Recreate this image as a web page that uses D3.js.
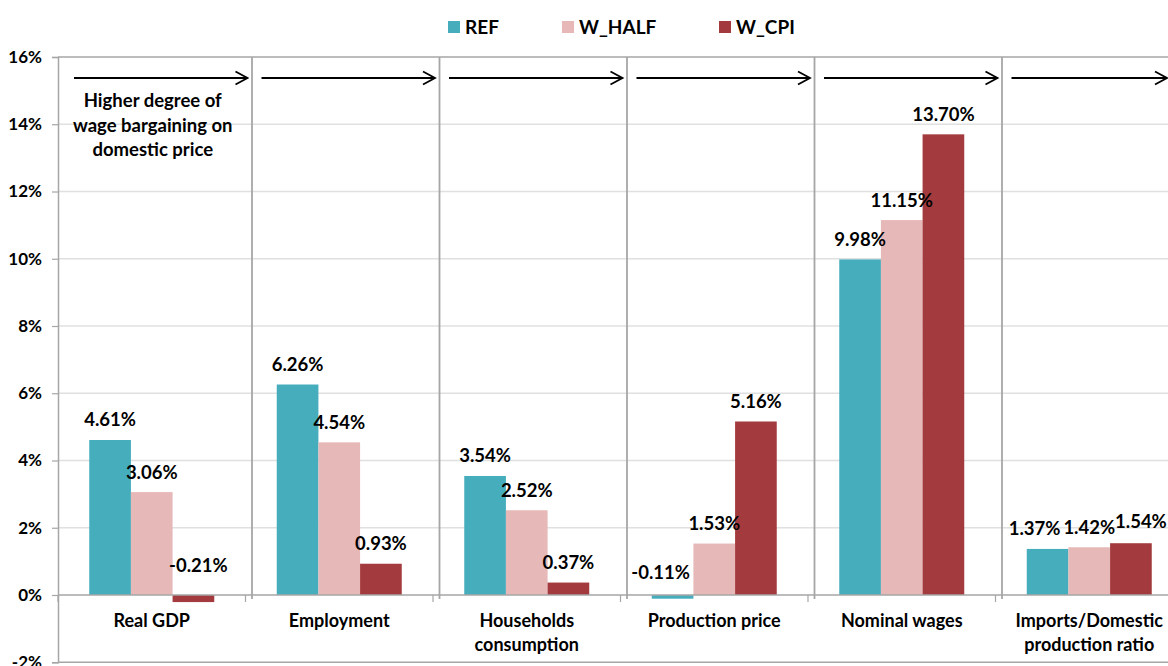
<!DOCTYPE html>
<html><head><meta charset="utf-8">
<script src="https://cdn.jsdelivr.net/npm/d3@7"></script>
<style>
body{margin:0;background:#fff}
svg{display:block}
text{font-family:Lato,'Noto Sans',sans-serif;font-weight:700;fill:#000}
</style>
</head><body>
<svg id="c" width="1168" height="666"></svg>
<script>
// ---- data ----
const categories = ["Real GDP", "Employment", "Households\nconsumption", "Production price", "Nominal wages", "Imports/Domestic\nproduction ratio"];
const seriesNames = ["REF", "W_HALF", "W_CPI"];
const refValues   = [4.61, 6.26, 3.54, -0.11, 9.98, 1.37];
const wHalfValues = [3.06, 4.54, 2.52, 1.53, 11.15, 1.42];
const wCpiValues  = [-0.21, 0.93, 0.37, 5.16, 13.70, 1.54];
const yTicks = [-2, 0, 2, 4, 6, 8, 10, 12, 14, 16];
const annotationLines = ["Higher degree of", "wage bargaining on", "domestic price"];

// ---- styles / layout ----
const colors = {"REF": "#45adbc", "W_HALF": "#e6b8b7", "W_CPI": "#a33b3e"};
const seriesValues = {"REF": refValues, "W_HALF": wHalfValues, "W_CPI": wCpiValues};
const labelNudge = {
  "W_CPI|0": [5, -10],
  "REF|3": [-12, -3],
  "REF|5": [-13, 0],
  "W_CPI|5": [10, -2]
};
const plotLeft = 58, bandW = 187.5, plotTop = 57, plotBottom = 662.25;
const FONT = "Lato,'Noto Sans',sans-serif";

const svg = d3.select("#c");
const x = d3.scaleBand().domain(categories).range([plotLeft, plotLeft + bandW * categories.length]).padding(0);
const xs = d3.scaleBand().domain(seriesNames).range([0, x.bandwidth()]).paddingInner(0).paddingOuter(0.75);
const y = d3.scaleLinear().domain([-2, 16]).range([plotBottom, plotTop]);

// gridlines
svg.append("g").selectAll("line").data(yTicks.filter(t => t > 0 && t < 16)).join("line")
  .attr("x1", plotLeft).attr("x2", 1168).attr("y1", d => y(d)).attr("y2", d => y(d))
  .attr("stroke", "#e0e0e0").attr("stroke-width", 1.3);

// top and bottom borders
svg.append("line").attr("x1", plotLeft).attr("x2", 1168).attr("y1", y(16)).attr("y2", y(16))
  .attr("stroke", "#a6a6a6").attr("stroke-width", 1.5);
svg.append("line").attr("x1", plotLeft).attr("x2", 1168).attr("y1", y(-2)).attr("y2", y(-2))
  .attr("stroke", "#a6a6a6").attr("stroke-width", 1.5);

// y axis
const yAxis = svg.append("g").attr("transform", `translate(${plotLeft},0)`)
  .call(d3.axisLeft(y).tickValues(yTicks).tickFormat(d => d + "%").tickSize(6).tickPadding(10));
yAxis.select(".domain").attr("stroke", "#a6a6a6").attr("stroke-width", 1.5);
yAxis.selectAll(".tick line").attr("stroke", "#a6a6a6").attr("stroke-width", 1.2);
yAxis.selectAll(".tick text").attr("font-size", 17).attr("font-family", FONT)
  .attr("font-weight", 700).attr("fill", "#000");

// bars
const groups = svg.append("g").selectAll("g").data(categories).join("g")
  .attr("transform", d => `translate(${x(d)},0)`);
seriesNames.forEach(s => {
  groups.append("rect")
    .attr("x", xs(s)).attr("width", xs.bandwidth())
    .attr("y", (d, i) => y(Math.max(0, seriesValues[s][i])))
    .attr("height", (d, i) => Math.abs(y(seriesValues[s][i]) - y(0)))
    .attr("fill", colors[s]);
});

// zero axis line
svg.append("line").attr("x1", plotLeft).attr("x2", 1168).attr("y1", y(0)).attr("y2", y(0))
  .attr("stroke", "#a6a6a6").attr("stroke-width", 1.5);
// category ticks on the zero axis
const bounds = categories.map(c => x(c)).concat([x.range()[1]]);
svg.append("g").selectAll("line").data(bounds).join("line")
  .attr("x1", d => d).attr("x2", d => d).attr("y1", y(0)).attr("y2", y(0) + 7)
  .attr("stroke", "#a6a6a6").attr("stroke-width", 1.2);

// separators
svg.append("g").selectAll("line").data(categories).join("line")
  .attr("x1", d => x(d) + bandW + 6.5).attr("x2", d => x(d) + bandW + 6.5)
  .attr("y1", plotTop).attr("y2", y(0) + 4)
  .attr("stroke", "#a6a6a6").attr("stroke-width", 1.8);

// arrows
const arrowY = 78;
const arr = svg.append("g").selectAll("g").data(categories).join("g");
arr.append("line").attr("x1", d => x(d) + 16).attr("x2", (d, i) => x(d) + bandW + (i < 5 ? 2 : -16))
  .attr("y1", arrowY).attr("y2", arrowY).attr("stroke", "#000").attr("stroke-width", 1.8);
arr.append("path").attr("d", (d, i) => {
    const tx = x(d) + bandW + (i < 5 ? 2 : -16);
    return `M${tx - 12},${arrowY - 6.5}L${tx},${arrowY}L${tx - 12},${arrowY + 6.5}`;
  }).attr("fill", "none").attr("stroke", "#000").attr("stroke-width", 1.8);

// data labels
seriesNames.forEach(s => {
  svg.append("g").selectAll("text").data(categories).join("text")
    .attr("text-anchor", "middle").attr("font-size", 18.5)
    .attr("x", (d, i) => x(d) + xs(s) + xs.bandwidth() / 2 + (labelNudge[s + "|" + i] || [0, 0])[0])
    .attr("y", (d, i) => y(Math.max(0, seriesValues[s][i])) - 13.5 + (labelNudge[s + "|" + i] || [0, 0])[1])
    .text((d, i) => seriesValues[s][i].toFixed(2) + "%");
});

// category labels
const cl = svg.append("g").selectAll("text").data(categories).join("text")
  .attr("text-anchor", "middle").attr("font-size", 18)
  .attr("x", d => x(d) + bandW / 2).attr("y", 627);
cl.selectAll("tspan").data(d => d.split("\n")).join("tspan")
  .attr("x", function() { return d3.select(this.parentNode).attr("x"); })
  .attr("dy", (d, i) => i === 0 ? 0 : 24).text(d => d);

// annotation
svg.append("g").selectAll("text").data(annotationLines).join("text")
  .attr("text-anchor", "middle").attr("font-size", 18.5)
  .attr("x", x(categories[0]) + bandW / 2 + 1).attr("y", (d, i) => 107 + i * 24.5).text(d => d);

// legend
const legendX = [448, 562, 719];
const lg = svg.append("g").selectAll("g").data(seriesNames).join("g")
  .attr("transform", (d, i) => `translate(${legendX[i]},21)`);
lg.append("rect").attr("width", 12).attr("height", 12).attr("fill", d => colors[d]);
lg.append("text").attr("x", 17).attr("y", 12.5).attr("font-size", 19).text(d => d);
</script>
</body></html>
